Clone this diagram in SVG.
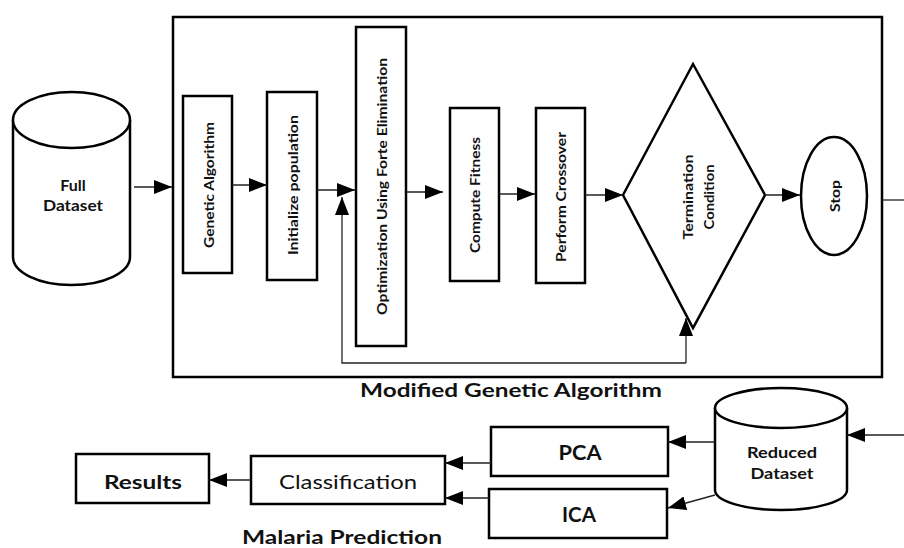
<svg xmlns="http://www.w3.org/2000/svg" width="904" height="548" viewBox="0 0 904 548">
<defs>
<marker id="ah" viewBox="0 0 18 14" refX="18" refY="7" markerWidth="18" markerHeight="14" markerUnits="userSpaceOnUse" orient="auto">
<path d="M0,0 L18,7 L0,14 z" fill="#000"/>
</marker>
<style>
.box{fill:#fff;stroke:#000;stroke-width:2.5}
.conn{fill:none;stroke:#222;stroke-width:1.3}
.t{font-family:Lato,"Open Sans","Liberation Sans",sans-serif;fill:#111}
.v{font-size:14px;text-anchor:middle;dominant-baseline:central;font-weight:bold}
.b{font-weight:bold}
</style>
</defs>
<rect width="904" height="548" fill="#fff"/>
<g id="mga-frame">
<rect x="173" y="17" width="709" height="360" fill="none" stroke="#000" stroke-width="2.5"/>
<text class="t b" x="511" y="397" font-size="18" text-anchor="middle" textLength="302" lengthAdjust="spacingAndGlyphs">Modified Genetic Algorithm</text>
</g>
<g id="full-dataset">
<path class="box" d="M13,120 L13,257 A58.5,28 0 0 0 130,257 L130,120 A58.5,28 0 0 0 13,120 Z"/>
<path class="box" d="M13,120 A58.5,28 0 0 0 130,120" fill="none"/>
<text class="t b" x="73" y="191" font-size="16" text-anchor="middle">Full</text>
<text class="t b" x="73" y="211" font-size="16" text-anchor="middle" textLength="60" lengthAdjust="spacingAndGlyphs">Dataset</text>
</g>
<g id="genetic-algorithm">
<rect class="box" x="183" y="96" width="49" height="177"/>
<text class="t v" transform="translate(208,185) rotate(-90)" textLength="126" lengthAdjust="spacingAndGlyphs">Genetic Algorithm</text>
</g>
<g id="initialize-population">
<rect class="box" x="267" y="92" width="50" height="188"/>
<text class="t v" transform="translate(292,185) rotate(-90)" textLength="140" lengthAdjust="spacingAndGlyphs">Initialize population</text>
</g>
<g id="optimization">
<rect class="box" x="356" y="27" width="50" height="319"/>
<text class="t v" transform="translate(381,186.5) rotate(-90)" textLength="257" lengthAdjust="spacingAndGlyphs">Optimization Using Forte Elimination</text>
</g>
<g id="compute-fitness">
<rect class="box" x="450" y="108" width="49" height="173"/>
<text class="t v" transform="translate(474.5,195) rotate(-90)" textLength="116" lengthAdjust="spacingAndGlyphs">Compute Fitness</text>
</g>
<g id="perform-crossover">
<rect class="box" x="536" y="108" width="49" height="175"/>
<text class="t v" transform="translate(560.5,197) rotate(-90)" textLength="130" lengthAdjust="spacingAndGlyphs">Perform Crossover</text>
</g>
<g id="termination-condition">
<path class="box" d="M623,195 L693,64 L765,195 L693,328 Z"/>
<text class="t v" transform="translate(687,197) rotate(-90)" textLength="85" lengthAdjust="spacingAndGlyphs">Termination</text>
<text class="t v" transform="translate(708,197) rotate(-90)" textLength="65" lengthAdjust="spacingAndGlyphs">Condition</text>
</g>
<g id="stop">
<ellipse class="box" cx="834" cy="196" rx="33" ry="59"/>
<text class="t v" transform="translate(834,196) rotate(-90)" textLength="32" lengthAdjust="spacingAndGlyphs">Stop</text>
</g>
<g id="reduced-dataset">
<path class="box" d="M715,408 L715,490 A66,20 0 0 0 847,490 L847,408 A66,20 0 0 0 715,408 Z"/>
<path class="box" d="M715,408 A66,20 0 0 0 847,408" fill="none"/>
<text class="t b" x="782" y="458" font-size="16" text-anchor="middle" textLength="70" lengthAdjust="spacingAndGlyphs">Reduced</text>
<text class="t b" x="782" y="479" font-size="16" text-anchor="middle" textLength="63" lengthAdjust="spacingAndGlyphs">Dataset</text>
</g>
<g id="pca">
<rect class="box" x="491" y="427" width="177" height="49"/>
<text class="t b" x="580" y="460" font-size="20" text-anchor="middle" textLength="43" lengthAdjust="spacingAndGlyphs">PCA</text>
</g>
<g id="ica">
<rect class="box" x="489" y="489" width="178" height="49"/>
<text class="t b" x="579" y="522" font-size="20" text-anchor="middle" textLength="34" lengthAdjust="spacingAndGlyphs">ICA</text>
</g>
<g id="classification">
<rect class="box" x="251" y="456" width="194" height="48"/>
<text class="t" x="348" y="489" font-size="19" text-anchor="middle" textLength="138" lengthAdjust="spacingAndGlyphs">Classification</text>
</g>
<g id="results">
<rect class="box" x="76" y="454" width="133" height="49"/>
<text class="t b" x="143" y="489" font-size="19" text-anchor="middle" textLength="78" lengthAdjust="spacingAndGlyphs">Results</text>
</g>
<g id="malaria-label">
<text class="t b" x="342" y="544" font-size="18" text-anchor="middle" textLength="200" lengthAdjust="spacingAndGlyphs">Malaria Prediction</text>
</g>
<g id="connectors">
<line class="conn" x1="134" y1="187" x2="172" y2="187" marker-end="url(#ah)"/>
<line class="conn" x1="232" y1="185" x2="267" y2="185" marker-end="url(#ah)"/>
<line class="conn" x1="317" y1="190" x2="355" y2="190" marker-end="url(#ah)"/>
<line class="conn" x1="406" y1="192" x2="443" y2="192" marker-end="url(#ah)"/>
<line class="conn" x1="499" y1="194" x2="535" y2="194" marker-end="url(#ah)"/>
<line class="conn" x1="585" y1="195" x2="623" y2="195" marker-end="url(#ah)"/>
<line class="conn" x1="765" y1="195" x2="800" y2="195" marker-end="url(#ah)"/>
<polyline class="conn" points="686,363 342,363 342,197" marker-end="url(#ah)"/>
<line class="conn" x1="686" y1="363" x2="686" y2="318" marker-end="url(#ah)"/>
<line class="conn" x1="882" y1="200" x2="904" y2="200"/>
<line class="conn" x1="904" y1="435" x2="847" y2="435" marker-end="url(#ah)"/>
<line class="conn" x1="715" y1="442" x2="668" y2="442" marker-end="url(#ah)"/>
<line class="conn" x1="715" y1="495" x2="668" y2="508" marker-end="url(#ah)"/>
<line class="conn" x1="491" y1="463" x2="445" y2="463" marker-end="url(#ah)"/>
<line class="conn" x1="489" y1="498" x2="445" y2="498" marker-end="url(#ah)"/>
<line class="conn" x1="251" y1="480" x2="209" y2="480" marker-end="url(#ah)"/>
</g>
</svg>
